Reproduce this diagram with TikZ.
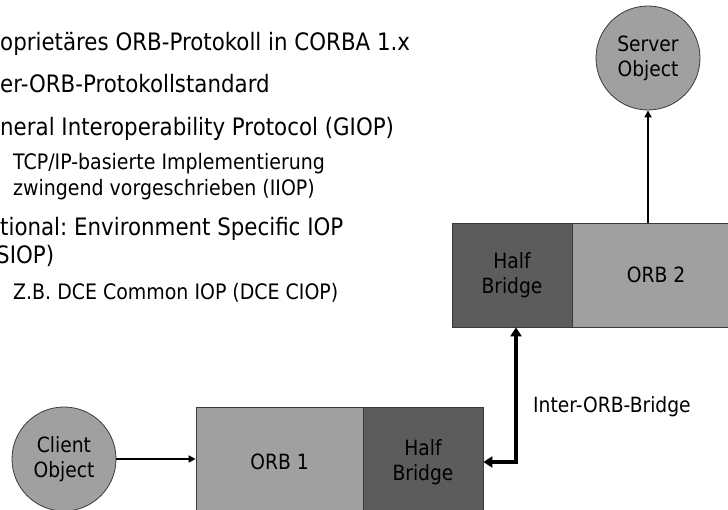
\documentclass[tikz,border=0pt]{standalone}
\usepackage{fontspec}
\setmainfont[FakeStretch=0.89]{DejaVu Sans}
\usetikzlibrary{arrows.meta,calc}
\definecolor{lightg}{HTML}{A0A0A0}
\definecolor{darkg}{HTML}{5C5C5C}
\definecolor{edgeg}{HTML}{3A3A3A}
\frenchspacing
\tikzset{
  obj/.style={circle, minimum size=104pt, inner sep=0pt, fill=lightg, draw=edgeg, line width=0.8pt, align=center, font=\fontsize{21}{25}\selectfont},
  orbbox/.style={rectangle, inner sep=0pt, fill=lightg, draw=edgeg, line width=0.8pt, align=center, font=\fontsize{21}{25}\selectfont},
  hbbox/.style={orbbox, fill=darkg},
  conn/.style={line width=1.6pt, -{Triangle[length=7pt,width=7pt]}},
  bridge/.style={line width=3.5pt, {Triangle[length=9pt,width=11pt]}-{Triangle[length=9pt,width=11pt]}},
  maintxt/.style={anchor=base west, inner sep=0pt, font=\fontsize{24}{28}\selectfont},
  subtxt/.style={anchor=base west, inner sep=0pt, font=\fontsize{21.3}{25}\selectfont},
}
\begin{document}
\begin{tikzpicture}[x=1pt,y=-1pt]
\useasboundingbox (0,0) rectangle (728,510);
% bullet text
\node[maintxt] (t1) at (0,51) {oprietäres ORB-Protokoll in CORBA 1.x};
\node[maintxt] (t2) at (0,93) {er-ORB-Protokollstandard};
\node[maintxt] (t3) at (0,136) {neral Interoperability Protocol (GIOP)};
\node[subtxt] (t4) at (13,170) {TCP/IP-basierte Implementierung};
\node[subtxt] (t5) at (13,196) {zwingend vorgeschrieben (IIOP)};
\node[maintxt] (t6) at (0,236) {tional: Environment Specific IOP};
\node[maintxt] (t7) at (-4,264) {SIOP)};
\node[subtxt] (t8) at (13,300) {Z.B. DCE Common IOP (DCE CIOP)};
% objects
\node[obj] (server) at (648,58) {Server\\Object};
\node[obj] (client) at (64,459) {Client\\Object};
% upper ORB
\node[hbbox, minimum width=120pt, minimum height=104pt] (hb2) at (512,275) {Half\\Bridge};
\node[orbbox, minimum width=168pt, minimum height=104pt] (orb2) at (656,275) {ORB 2};
% lower ORB
\node[orbbox, minimum width=167pt, minimum height=110pt] (orb1) at (279.5,462) {ORB 1};
\node[hbbox, minimum width=120pt, minimum height=110pt] (hb1) at (423,462) {Half\\Bridge};
% connectors
\draw[conn] (server.south |- orb2.north) -- (server.south);
\draw[conn] (client.east) -- (client.east -| orb1.west);
\coordinate (corner) at (516,462);
\draw[bridge] (hb1.east) -- (corner) -- (corner |- hb2.south);
\node[anchor=west, inner sep=0pt, font=\fontsize{21}{25}\selectfont] (lbl) at (533,407) {Inter-ORB-Bridge};
\end{tikzpicture}
\end{document}
